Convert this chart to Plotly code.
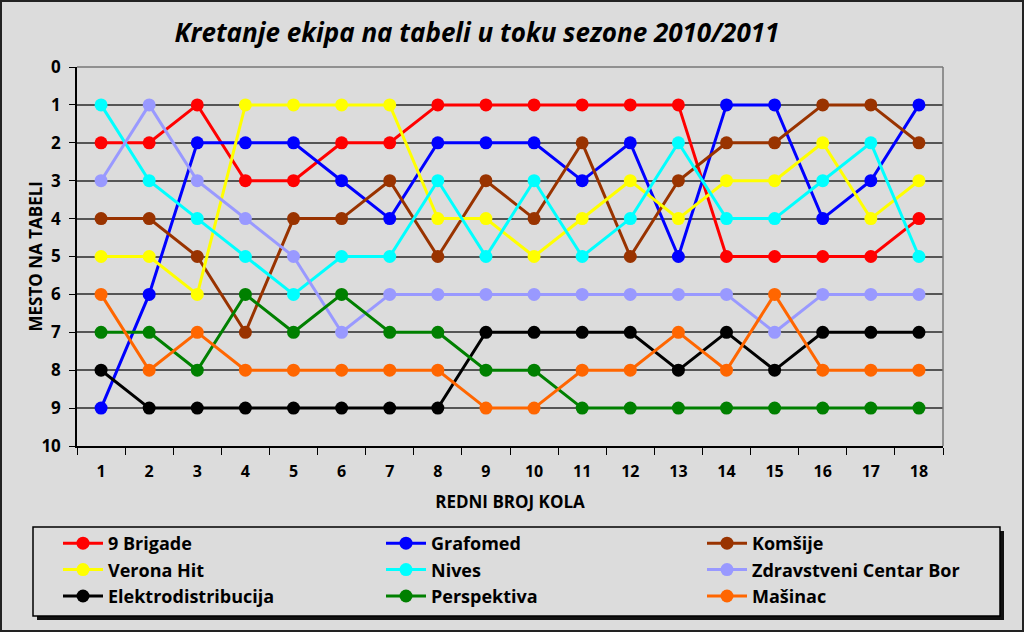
import plotly.graph_objects as go

rounds = [str(r) for r in range(1, 19)]

team_names = [
    "9 Brigade", "Grafomed", "Komšije",
    "Verona Hit", "Nives", "Zdravstveni Centar Bor",
    "Elektrodistribucija", "Perspektiva", "Mašinac",
]

brigade = [2, 2, 1, 3, 3, 2, 2, 1, 1, 1, 1, 1, 1, 5, 5, 5, 5, 4]
grafomed = [9, 6, 2, 2, 2, 3, 4, 2, 2, 2, 3, 2, 5, 1, 1, 4, 3, 1]
komsije = [4, 4, 5, 7, 4, 4, 3, 5, 3, 4, 2, 5, 3, 2, 2, 1, 1, 2]
verona = [5, 5, 6, 1, 1, 1, 1, 4, 4, 5, 4, 3, 4, 3, 3, 2, 4, 3]
nives = [1, 3, 4, 5, 6, 5, 5, 3, 5, 3, 5, 4, 2, 4, 4, 3, 2, 5]
zc_bor = [3, 1, 3, 4, 5, 7, 6, 6, 6, 6, 6, 6, 6, 6, 7, 6, 6, 6]
elektro = [8, 9, 9, 9, 9, 9, 9, 9, 7, 7, 7, 7, 8, 7, 8, 7, 7, 7]
perspektiva = [7, 7, 8, 6, 7, 6, 7, 7, 8, 8, 9, 9, 9, 9, 9, 9, 9, 9]
masinac = [6, 8, 7, 8, 8, 8, 8, 8, 9, 9, 8, 8, 7, 8, 6, 8, 8, 8]

series = [brigade, grafomed, komsije, verona, nives, zc_bor, elektro, perspektiva, masinac]
colors = ["#ff0000", "#0000ff", "#993300", "#ffff00", "#00ffff", "#9999ff",
          "#000000", "#008000", "#ff6600"]

BG = "#dcdcdc"
FONT = "Open Sans"

# plot area in pixels: x 77..943, y 67..446
PL, PR, PT, PB = 77, 943, 67, 446
PW, PH = PR - PL, PB - PT


def px_x(v):
    return (v - PL) / PW


def px_y(v):
    return (PB - v) / PH


# legend is laid out in three columns, one plotly legend per column
# (horizontal legends with a wide entrywidth so each wraps to one item per row)
legend_ids = ["legend", "legend2", "legend3"]
legend_cols_px = [58, 381, 702]

fig = go.Figure()
for i, (name, vals, col) in enumerate(zip(team_names, series, colors)):
    fig.add_trace(go.Scatter(
        x=rounds, y=vals, name=f"<b>{name}</b>", mode="lines+markers",
        line=dict(color=col, width=3),
        marker=dict(color=col, size=13, symbol="circle"),
        legend=legend_ids[i % 3],
    ))

# legend box with shadow
fig.add_shape(type="rect", xref="paper", yref="paper",
              x0=px_x(37), x1=px_x(1004), y0=px_y(531), y1=px_y(620),
              fillcolor="#111111", line_width=0, layer="below")
fig.add_shape(type="rect", xref="paper", yref="paper",
              x0=px_x(33), x1=px_x(1000), y0=px_y(527), y1=px_y(616),
              fillcolor=BG, line=dict(color="#000000", width=1.5), layer="below")
# outer frame
fig.add_shape(type="rect", xref="paper", yref="paper",
              x0=px_x(1), x1=px_x(1023), y0=px_y(631), y1=px_y(1),
              line=dict(color="#222222", width=2), fillcolor="rgba(0,0,0,0)")
# plot area border top/right
fig.add_shape(type="line", xref="paper", yref="paper", x0=0, x1=1, y0=1, y1=1,
              line=dict(color="#777777", width=1.5))
fig.add_shape(type="line", xref="paper", yref="paper", x0=1, x1=1, y0=0, y1=1,
              line=dict(color="#777777", width=1.5))

legend_style = dict(orientation="h", xref="container", yref="container",
                    xanchor="left", y=1 - 525 / 632, yanchor="top",
                    entrywidth=500, entrywidthmode="pixels",
                    bgcolor="rgba(0,0,0,0)", borderwidth=0,
                    font=dict(size=18, family=FONT), itemwidth=40)

fig.update_layout(
    width=1024, height=632,
    margin=dict(l=PL, r=1024 - PR, t=PT, b=632 - PB),
    paper_bgcolor=BG, plot_bgcolor=BG,
    font=dict(family=FONT, color="#000000", size=16),
    title=dict(text="<b><i>Kretanje ekipa na tabeli u toku sezone 2010/2011</i></b>",
               x=477 / 1024, xanchor="center", y=1 - 33 / 632, yanchor="middle",
               font=dict(size=26, family=FONT)),
    showlegend=True,
    xaxis=dict(
        type="category", range=[-0.5, 17.5], tickson="boundaries",
        ticks="outside", ticklen=7, ticklabelstandoff=10,
        tickcolor="#000000", showline=True, linecolor="#000000", linewidth=1.5,
        showgrid=False, automargin=False,
        tickfont=dict(size=16, family=FONT),
        tickprefix="<b>", ticksuffix="</b>",
        title=dict(text="<b>REDNI BROJ KOLA</b>", font=dict(size=17, family=FONT), standoff=15),
    ),
    yaxis=dict(
        range=[10, 0], dtick=1, tick0=0, ticks="outside", ticklen=6,
        ticklabelstandoff=5,
        tickcolor="#000000", showline=True, linecolor="#000000", linewidth=1.5,
        showgrid=True, gridcolor="#555555", gridwidth=1.5, zeroline=False,
        automargin=False,
        tickfont=dict(size=17, family=FONT),
        tickprefix="<b>", ticksuffix="</b>",
    ),
    annotations=[dict(
        text="<b>MESTO NA TABELI</b>", textangle=-90, showarrow=False,
        xref="paper", yref="paper", x=px_x(35), y=0.5,
        xanchor="center", yanchor="middle", font=dict(size=17, family=FONT),
    )],
)
for lid, colx in zip(legend_ids, legend_cols_px):
    fig.update_layout({lid: dict(legend_style, x=colx / 1024)})

fig.write_html("out.html", config={"displayModeBar": False},
               post_script="document.body.style.margin='0';")
